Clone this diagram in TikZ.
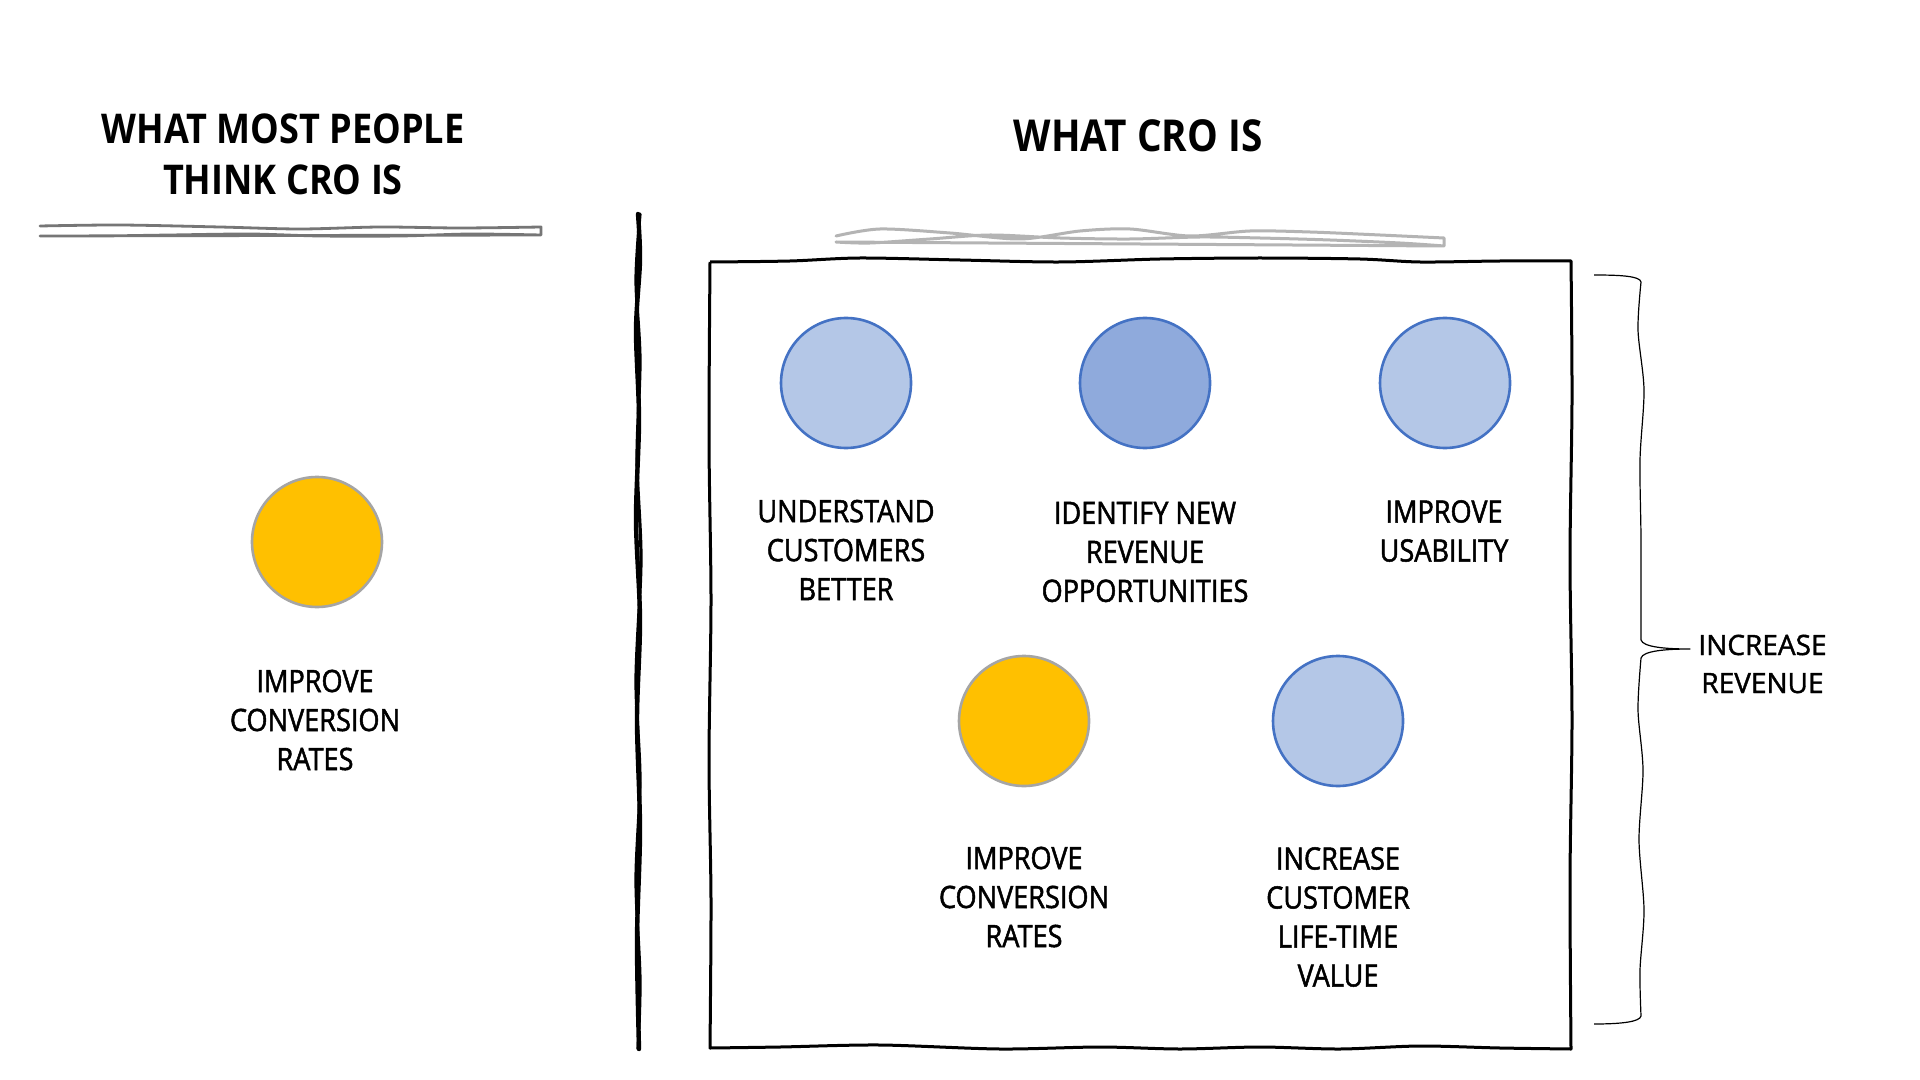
\documentclass[tikz,border=0pt]{standalone}
\usepackage{fontspec}
\setmainfont{Open Sans}
\newfontfamily\handfont[FakeStretch=0.88,FakeBold=1.6]{Open Sans}
\newfontfamily\titlefont[FakeStretch=0.88]{Open Sans}
\newfontfamily\wideface[FakeBold=1.4]{Open Sans}
\definecolor{blueL}{HTML}{B4C7E7}
\definecolor{blueM}{HTML}{8FAADC}
\definecolor{blueS}{HTML}{4472C4}
\definecolor{yel}{HTML}{FFC000}
\definecolor{yelS}{HTML}{A5A5A5}
\definecolor{lineG}{HTML}{767676}
\definecolor{lineL}{HTML}{B4B4B4}
\begin{document}
\begin{tikzpicture}[x=0.5pt,y=-0.5pt,
  dot/.style={circle, minimum size=65pt, inner sep=0pt, line width=1.3pt},
  bluedot/.style={dot, fill=blueL, draw=blueS},
  bluedotm/.style={dot, fill=blueM, draw=blueS},
  yeldot/.style={dot, fill=yel, draw=yelS},
  lbl/.style={align=center, inner sep=0pt, font=\handfont\fontsize{15.4}{19.5}\selectfont},
  ttl/.style={align=center, inner sep=0pt, font=\titlefont\bfseries\fontsize{20.5}{25.5}\selectfont},
  ttlR/.style={align=center, inner sep=0pt, font=\titlefont\bfseries\fontsize{22}{27}\selectfont},
  rev/.style={align=center, inner sep=0pt, font=\wideface\fontsize{14}{19}\selectfont},
  sketch/.style={line width=1.5pt, line join=round, line cap=round}
]
\useasboundingbox[fill=white] (0,0) rectangle (1920,1080);

% ---------- left side ----------
\node[ttl] (ltitle) at (283,154) {WHAT MOST PEOPLE\\THINK CRO IS};
\draw[sketch, draw=lineG, line width=1.4pt]
  plot[smooth] coordinates {(40,226) (120,225) (220,227) (300,229) (380,227) (460,228) (541,227)}
  -- (541,235)
  plot[smooth] coordinates {(541,235) (470,234) (400,236) (320,236) (250,234) (170,235) (100,236) (40,236)}
  -- cycle;

\node[yeldot] (lcirc) at (317,542) {};
\node[lbl] (llabel) at (315,720) {IMPROVE\\CONVERSION\\RATES};

% ---------- divider ----------
\draw[line width=2.2pt, line cap=round]
  plot[smooth] coordinates {(638,214) (640,260) (636,330) (639,420) (636,520) (640,620) (637,720) (640,830) (637,940) (639,1049)};
\draw[line width=1.6pt, line cap=round]
  plot[smooth] coordinates {(640,214) (636,280) (640,360) (637,460) (641,560) (636,680) (640,780) (636,880) (640,980) (638,1049)};

% ---------- right side ----------
\node[ttlR] (rtitle) at (1138,136) {WHAT CRO IS};
\draw[sketch, draw=lineL, line width=1.5pt]
  plot[smooth] coordinates {(836,236) (880,229) (950,233) (1020,239) (1080,231) (1130,229) (1190,236) (1250,231) (1310,232) (1380,235) (1444,238)}
  -- (1444,246)
  plot[smooth] coordinates {(1444,246) (1400,243) (1330,240) (1260,238) (1200,237) (1130,239) (1060,238) (990,235) (930,239) (870,243) (836,242)}
  -- cycle;

% box
\draw[line width=1.5pt, line join=round]
  plot[smooth] coordinates {(710,262) (790,261) (860,258) (960,260) (1060,262) (1160,259) (1260,258) (1360,259) (1420,262) (1500,261) (1571,261)}
  -- plot[smooth] coordinates {(1571,261) (1572,400) (1570,560) (1572,720) (1570,880) (1571,1049)}
  -- plot[smooth] coordinates {(1571,1049) (1500,1048) (1420,1046) (1340,1049) (1260,1047) (1180,1049) (1100,1047) (1000,1049) (880,1045) (780,1047) (710,1048)}
  -- plot[smooth] coordinates {(710,1048) (711,900) (709,760) (711,600) (709,440) (710,262)};

\node[bluedot]  (c1) at (846,383) {};
\node[bluedotm] (c2) at (1145,383) {};
\node[bluedot]  (c3) at (1445,383) {};
\node[yeldot]   (c4) at (1024,721) {};
\node[bluedot]  (c5) at (1338,721) {};

\node[lbl] (l1) at (846,550) {UNDERSTAND\\CUSTOMERS\\BETTER};
\node[lbl] (l2) at (1145,552) {IDENTIFY NEW\\REVENUE\\OPPORTUNITIES};
\node[lbl] (l3) at (1444,531) {IMPROVE\\USABILITY};
\node[lbl] (l4) at (1024,897) {IMPROVE\\CONVERSION\\RATES};
\node[lbl] (l5) at (1338,917) {INCREASE\\CUSTOMER\\LIFE-TIME\\VALUE};

% ---------- brace ----------
\coordinate (btop) at (1594,275);
\coordinate (btip) at (1690,649);
\coordinate (bbot) at (1594,1024);
\draw[line width=0.6pt, line join=round]
  (btop) .. controls (1620,275) and (1640,276) .. (1641,282)
  plot[smooth] coordinates {(1641,282) (1638,330) (1644,390) (1640,460) (1641,540) (1641,640)}
  .. controls (1643,647) and (1665,649) .. (btip)
  .. controls (1665,649) and (1643,651) .. (1641,658)
  plot[smooth] coordinates {(1641,658) (1638,710) (1643,770) (1639,840) (1644,910) (1640,970) (1641,1016)}
  .. controls (1640,1022) and (1620,1024) .. (bbot);
\node[rev, anchor=west] (revtxt) at (1698,664) {INCREASE\\REVENUE};

\end{tikzpicture}
\end{document}
